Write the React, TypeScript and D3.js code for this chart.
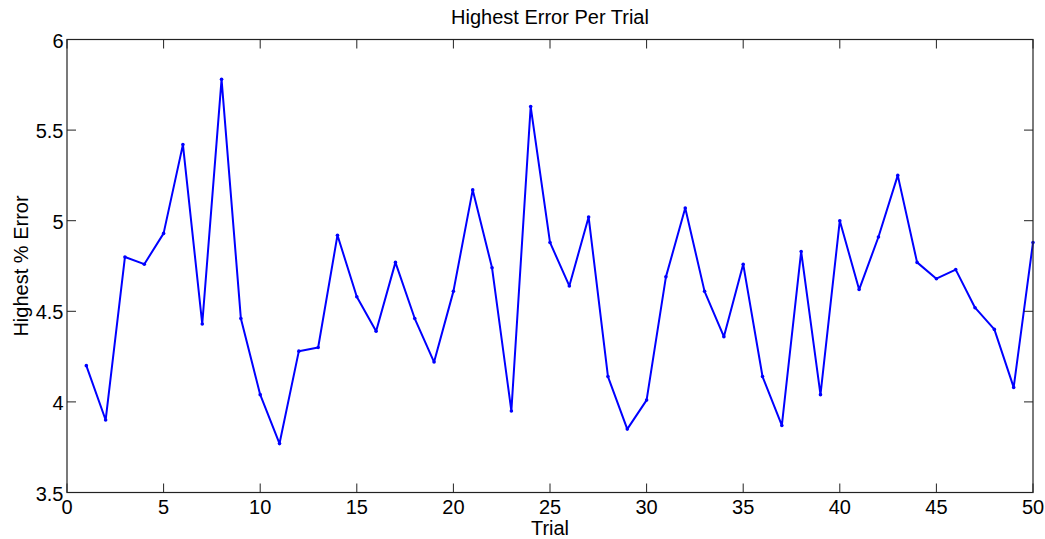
import React from "react";
import * as d3 from "d3";

const trials = d3.range(1, 51);
const errors = [
  4.2, 3.9, 4.8, 4.76, 4.93, 5.42, 4.43, 5.78, 4.46, 4.04,
  3.77, 4.28, 4.3, 4.92, 4.58, 4.39, 4.77, 4.46, 4.22, 4.61,
  5.17, 4.74, 3.95, 5.63, 4.88, 4.64, 5.02, 4.14, 3.85, 4.01,
  4.69, 5.07, 4.61, 4.36, 4.76, 4.14, 3.87, 4.83, 4.04, 5.0,
  4.62, 4.91, 5.25, 4.77, 4.68, 4.73, 4.52, 4.4, 4.08, 4.88,
];
const xTicks = [0, 5, 10, 15, 20, 25, 30, 35, 40, 45, 50];
const yTicks = [3.5, 4, 4.5, 5, 5.5, 6];

const W = 1045;
const H = 539;
const L = 67, R = 1033, T = 39.5, B = 492.5;
const font = "Liberation Sans, Arial, sans-serif";
const fs = 20;

export default function App() {
  const x = d3.scaleLinear().domain([0, 50]).range([L, R]);
  const y = d3.scaleLinear().domain([3.5, 6]).range([B, T]);
  const data = trials.map((t, i) => [t, errors[i]] as [number, number]);
  const line = d3.line<[number, number]>().x((d) => x(d[0])).y((d) => y(d[1]));
  const tl = 9;
  return (
    <svg width={W} height={H} style={{ position: "absolute", left: 0, top: 0, background: "#fff" }}>
      <rect x={0} y={0} width={W} height={H} fill="#fff" />
      <path d={line(data) || ""} fill="none" stroke="#0000ff" strokeWidth={2} strokeLinejoin="round" />
      {data.map((d, i) => (
        <circle key={i} cx={x(d[0])} cy={y(d[1])} r={1.8} fill="#0000ff" />
      ))}
      <rect x={L} y={T} width={R - L} height={B - T} fill="none" stroke="#222" strokeWidth={1.2} />
      {xTicks.map((t) => (
        <g key={"x" + t}>
          <line x1={x(t)} x2={x(t)} y1={B} y2={B - tl} stroke="#222" strokeWidth={1} />
          <line x1={x(t)} x2={x(t)} y1={T} y2={T + tl} stroke="#222" strokeWidth={1} />
          <text x={x(t)} y={514} fontFamily={font} fontSize={fs} textAnchor="middle" fill="#000">
            {t}
          </text>
        </g>
      ))}
      {yTicks.map((t) => (
        <g key={"y" + t}>
          <line x1={L} x2={L + tl} y1={y(t)} y2={y(t)} stroke="#222" strokeWidth={1} />
          <line x1={R} x2={R - tl} y1={y(t)} y2={y(t)} stroke="#222" strokeWidth={1} />
          <text x={63.5} y={y(t) + 8} fontFamily={font} fontSize={fs} textAnchor="end" fill="#000">
            {t}
          </text>
        </g>
      ))}
      <text x={(L + R) / 2} y={24} fontFamily={font} fontSize={fs} textAnchor="middle" fill="#000">
        Highest Error Per Trial
      </text>
      <text x={(L + R) / 2} y={534.5} fontFamily={font} fontSize={fs} textAnchor="middle" fill="#000">
        Trial
      </text>
      <text
        transform={`translate(27.5,${(T + B) / 2}) rotate(-90)`}
        fontFamily={font}
        fontSize={fs}
        textAnchor="middle"
        fill="#000"
      >
        Highest % Error
      </text>
    </svg>
  );
}
